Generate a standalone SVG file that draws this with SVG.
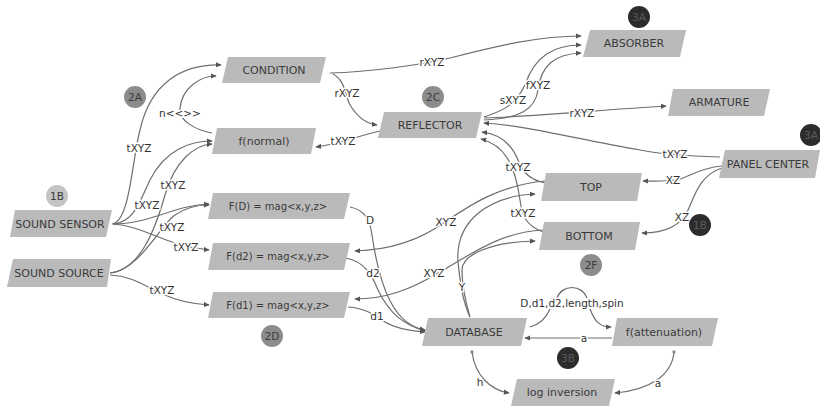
<svg xmlns="http://www.w3.org/2000/svg" width="820" height="413" viewBox="0 0 820 413">
<defs>
<marker id="ah" viewBox="0 0 8 8" refX="7" refY="4" markerWidth="6" markerHeight="6" orient="auto" markerUnits="userSpaceOnUse">
<path d="M0,0.5 L8,4 L0,7.5 z" fill="#555"/>
</marker>
<marker id="dot" viewBox="0 0 6 6" refX="3" refY="3" markerWidth="4" markerHeight="4" markerUnits="userSpaceOnUse">
<circle cx="3" cy="3" r="2.5" fill="#888"/>
</marker>
</defs>
<style>
.n{fill:#bababa}
.nt{font-family:"DejaVu Sans",Verdana,sans-serif;font-size:11px;fill:#3a3a3a;text-anchor:middle}
.ft{font-family:"DejaVu Sans",Verdana,sans-serif;font-size:10px;fill:#3a3a3a;text-anchor:middle}
.e{fill:none;stroke:#6e6e6e;stroke-width:1.2;marker-end:url(#ah)}
.s{fill:none;stroke:#6e6e6e;stroke-width:1.2}
.l{font-family:"DejaVu Sans",Verdana,sans-serif;font-size:10.5px;fill:#333;text-anchor:middle;paint-order:stroke;stroke:#fff;stroke-width:3px;stroke-linejoin:round}
.bm{fill:#8c8c8c}
.bl{fill:#c4c4c4}
.bd{fill:#2c2c2c}
.bt{font-family:"DejaVu Sans",Verdana,sans-serif;font-size:10.5px;fill:#3a3a3a;text-anchor:middle}
.btd{font-family:"DejaVu Sans",Verdana,sans-serif;font-size:10.5px;fill:#5a5a5a;text-anchor:middle}
</style>
<rect width="820" height="413" fill="#fff"/>

<g id="connectors">
<path class="e" d="M112,224 C130,222 132,160 140,130 C150,85 180,64 221,65"/>
<path class="e" d="M212,133 C195,130 178,120 180,108 C182,88 200,76 216,76"/>
<path class="e" d="M113,224 C135,222 140,200 150,180 C165,150 190,141 212,141"/>
<path class="e" d="M110,273 C140,270 155,230 165,195 C175,160 195,145 212,144"/>
<path class="e" d="M113,224 C150,224 175,205 209,204"/>
<path class="e" d="M110,273 C140,270 160,225 175,215 C185,208 195,205 209,205"/>
<path class="e" d="M113,224 C145,226 165,246 209,250"/>
<path class="e" d="M110,275 C135,276 150,290 165,295 C180,302 195,304 209,305"/>
<path class="e" d="M330,73 C370,72 420,65 450,58 C500,45 540,36 581,36"/>
<path class="e" d="M333,74 C345,80 345,95 350,105 C358,118 368,124 377,125"/>
<path class="e" d="M381,131 C360,135 340,144 316,147"/>
<path class="e" d="M484,117 C505,110 515,105 525,85 C535,55 555,45 581,45"/>
<path class="e" d="M484,120 C520,118 535,110 538,90 C541,65 555,54 581,53"/>
<path class="e" d="M484,118 C540,116 600,110 666,106"/>
<path class="e" d="M720,157 C690,156 660,154 640,150 C580,140 530,126 484,123"/>
<path class="e" d="M545,183 C530,180 522,172 518,160 C512,145 500,134 482,132"/>
<path class="e" d="M543,232 C525,225 522,215 520,200 C515,165 505,145 481,139"/>
<path class="e" d="M722,166 C700,168 690,176 680,179 C665,182 655,181 643,181"/>
<path class="e" d="M722,168 C700,175 695,195 688,210 C680,228 660,233 642,233"/>
<path class="e" d="M545,181 C500,185 470,205 445,222 C420,240 390,250 355,251"/>
<path class="e" d="M543,230 C500,232 470,255 440,272 C410,290 385,299 355,299"/>
<path class="e" d="M470,317 C462,300 460,280 458,262 C455,220 490,196 535,194"/>
<path class="e" d="M470,317 C465,300 462,285 462,270 C462,255 490,242 535,241"/>
<path class="e" d="M350,207 C365,210 370,220 372,235 C380,290 395,325 425,330"/>
<path class="e" d="M346,258 C365,262 372,275 378,290 C390,315 405,325 425,331"/>
<path class="e" d="M348,307 C365,308 375,315 385,322 C395,328 410,331 425,332"/>
<path class="s" d="M530,327 C542,324 547,316 550,309"/>
<path class="s" d="M557,298 C562,284 582,284 587,298"/>
<path class="e" d="M590,309 C595,322 600,327 611,327"/>
<path class="e" d="M612,338 L525,338"/>
<path class="e" style="marker-start:url(#dot)" d="M472,352 C475,375 490,390 509,393"/>
<path class="e" style="marker-start:url(#dot)" d="M674,352 C672,375 650,390 615,393"/>

<text class="l" x="139" y="152">tXYZ</text>
<text class="l" x="180" y="117">n&lt;&lt;&gt;&gt;</text>
<text class="l" x="147" y="209">tXYZ</text>
<text class="l" x="173" y="189">tXYZ</text>
<text class="l" x="172" y="231">tXYZ</text>
<text class="l" x="186" y="251">tXYZ</text>
<text class="l" x="162" y="294">tXYZ</text>
<text class="l" x="432" y="66">rXYZ</text>
<text class="l" x="347" y="97">rXYZ</text>
<text class="l" x="343" y="145">tXYZ</text>
<text class="l" x="513" y="104">sXYZ</text>
<text class="l" x="538" y="89">fXYZ</text>
<text class="l" x="582" y="117">rXYZ</text>
<text class="l" x="675" y="158">tXYZ</text>
<text class="l" x="518" y="171">tXYZ</text>
<text class="l" x="523" y="217">tXYZ</text>
<text class="l" x="673" y="184">XZ</text>
<text class="l" x="682" y="221">XZ</text>
<text class="l" x="446" y="226">XYZ</text>
<text class="l" x="434" y="277">XYZ</text>
<text class="l" x="462" y="291">Y</text>
<text class="l" x="370" y="224">D</text>
<text class="l" x="373" y="277">d2</text>
<text class="l" x="377" y="320">d1</text>
<text class="l" x="572" y="307">D,d1,d2,length,spin</text>
<text class="l" x="584" y="342">a</text>
<text class="l" x="480" y="386">h</text>
<text class="l" x="658" y="387">a</text>
</g>

<g id="condition"><polygon class="n" points="228,57 326,57 320,83 222,83"/><text class="nt" x="274" y="74">CONDITION</text></g>
<g id="fnormal"><polygon class="n" points="217,128 316,128 311,154 212,154"/><text class="nt" x="264" y="145">f(normal)</text></g>
<g id="reflector"><polygon class="n" points="384,112 482,112 476,138 378,138"/><text class="nt" x="430" y="129">REFLECTOR</text></g>
<g id="absorber"><polygon class="n" points="590,30 686,30 680,57 583,57"/><text class="nt" x="634" y="47">ABSORBER</text></g>
<g id="armature"><polygon class="n" points="673,89 770,89 764,116 668,116"/><text class="nt" x="719" y="106">ARMATURE</text></g>
<g id="panelcenter"><polygon class="n" points="725,150 820,150 815,178 719,178"/><text class="nt" x="768" y="168">PANEL CENTER</text></g>
<g id="top"><polygon class="n" points="546,173 642,173 637,201 541,201"/><text class="nt" x="591" y="191">TOP</text></g>
<g id="bottom"><polygon class="n" points="544,222 640,222 635,250 539,250"/><text class="nt" x="589" y="240">BOTTOM</text></g>
<g id="soundsensor"><polygon class="n" points="15,210 112,210 106,237 10,237"/><text class="nt" x="60" y="228">SOUND SENSOR</text></g>
<g id="soundsource"><polygon class="n" points="13,259 111,259 107,287 7,287"/><text class="nt" x="59" y="277">SOUND SOURCE</text></g>
<g id="fD"><polygon class="n" points="213,193 350,193 344,219 208,219"/><text class="ft" x="278" y="210">F(D) = mag&lt;x,y,z&gt;</text></g>
<g id="fd2"><polygon class="n" points="213,243 350,243 344,270 208,270"/><text class="ft" x="278" y="260">F(d2) = mag&lt;x,y,z&gt;</text></g>
<g id="fd1"><polygon class="n" points="213,292 350,292 344,318 208,318"/><text class="ft" x="278" y="309">F(d1) = mag&lt;x,y,z&gt;</text></g>
<g id="database"><polygon class="n" points="428,318 527,318 521,346 422,346"/><text class="nt" x="474" y="336">DATABASE</text></g>
<g id="fattenuation"><polygon class="n" points="617,318 718,318 712,346 612,346"/><text class="nt" x="664" y="336">f(attenuation)</text></g>
<g id="loginversion"><polygon class="n" points="517,379 615,379 609,406 511,406"/><text class="nt" x="562" y="396">log inversion</text></g>

<g id="badge-2A"><circle class="bm" cx="135" cy="97" r="11"/><text class="bt" x="135" y="101">2A</text></g>
<g id="badge-2C"><circle class="bm" cx="433" cy="97" r="11"/><text class="bt" x="433" y="101">2C</text></g>
<g id="badge-3A-top"><circle class="bd" cx="639" cy="17" r="11"/><text class="btd" x="639" y="21">3A</text></g>
<g id="badge-3A-panel"><circle class="bd" cx="811" cy="135" r="11"/><text class="btd" x="811" y="139">3A</text></g>
<g id="badge-1B-sensor"><circle class="bl" cx="57" cy="196" r="11"/><text class="bt" x="57" y="200">1B</text></g>
<g id="badge-1B-dark"><circle class="bd" cx="700" cy="225" r="11"/><text class="btd" x="700" y="229">1B</text></g>
<g id="badge-2F"><circle class="bm" cx="591" cy="265" r="11"/><text class="bt" x="591" y="269">2F</text></g>
<g id="badge-2D"><circle class="bm" cx="272" cy="336" r="11"/><text class="bt" x="272" y="340">2D</text></g>
<g id="badge-3B"><circle class="bd" cx="568" cy="358" r="11"/><text class="btd" x="568" y="362">3B</text></g>
</svg>
